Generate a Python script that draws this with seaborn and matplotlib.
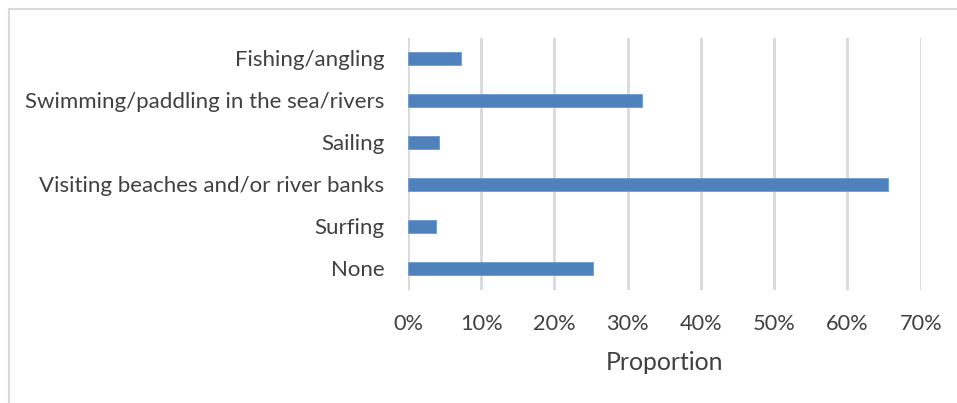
import matplotlib
matplotlib.use("Agg")
import matplotlib.pyplot as plt
from matplotlib.patches import Rectangle
from matplotlib.ticker import PercentFormatter
import seaborn as sns
import pandas as pd

categories = [
    "Fishing/angling",
    "Swimming/paddling in the sea/rivers",
    "Sailing",
    "Visiting beaches and/or river banks",
    "Surfing",
    "None",
]
proportions = [0.073, 0.320, 0.043, 0.655, 0.038, 0.253]
x_ticks = [0.0, 0.1, 0.2, 0.3, 0.4, 0.5, 0.6, 0.7]

df = pd.DataFrame({"Activity": categories, "Proportion": proportions})

sns.set_theme(style="white")
plt.rcParams["font.family"] = ["Lato", "DejaVu Sans"]
text_color = "#404040"
grid_color = "#d9d9d9"

W, H = 957, 403
fig = plt.figure(figsize=(W / 100, H / 100), dpi=100)
ax = fig.add_axes([408 / W, 1 - 289.5 / H, (920.7 - 408) / W, (289.5 - 37.5) / H])

sns.barplot(data=df, x="Proportion", y="Activity", orient="h", color="#4F81BD",
            width=0.33, saturation=1, edgecolor="#6f9bd1", linewidth=0.6, ax=ax)

ax.set_xlim(0, 0.7)
ax.set_ylim(len(categories) - 0.5, -0.5)
ax.set_xticks(x_ticks)
ax.xaxis.set_major_formatter(PercentFormatter(1.0, decimals=0))
ax.grid(axis="x", color=grid_color, linewidth=2)
ax.set_axisbelow(True)
for s in ax.spines.values():
    s.set_visible(False)

ax.tick_params(axis="y", length=0, pad=17, labelsize=16, colors=text_color)
ax.tick_params(axis="x", length=0, pad=18, labelsize=15.7, colors=text_color)
ax.set_ylabel("")
ax.set_xlabel("Proportion", fontsize=17.8, color=text_color, labelpad=12)

# outer chart frame
fig.patches.append(Rectangle((8.5 / W, -0.1), 1.2, (H - 8.5) / H + 0.1,
                             transform=fig.transFigure, fill=False,
                             edgecolor=grid_color, linewidth=1.5, zorder=0))

fig.savefig("out.png", dpi=100, facecolor="white")
